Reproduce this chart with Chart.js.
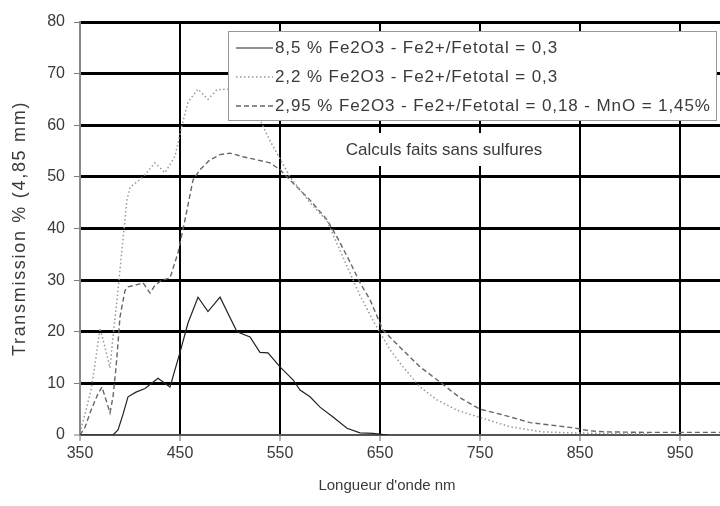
<!DOCTYPE html>
<html>
<head>
<meta charset="utf-8">
<script src="https://cdn.jsdelivr.net/npm/chart.js@4.4.1/dist/chart.umd.min.js"></script>
<style>
  html, body { margin: 0; padding: 0; background: #fff; }
</style>
</head>
<body>
<canvas id="transChart" width="720" height="506"></canvas>
<script>
// Wavelengths (nm) and transmission (%)
const solidNm = [350, 383, 388, 393, 398, 406, 415, 428, 440, 450, 458, 468, 478, 490, 507, 520, 530, 538, 550, 563, 570, 580, 590, 603, 617, 630, 643, 658];
const solidT  = [0, 0, 1, 4, 7.4, 8.3, 9, 11, 9.3, 16, 21.7, 26.7, 23.9, 26.7, 20, 19, 16, 15.9, 13.2, 10.7, 8.7, 7.4, 5.4, 3.5, 1.3, 0.4, 0.3, 0];

const dottedNm = [350, 356, 361, 366, 370, 375, 380, 383, 388, 392, 397, 400, 412, 425, 435, 445, 452, 458, 468, 478, 487, 500, 515, 530, 540, 550, 560, 570, 580, 597, 614, 630, 645, 660, 673, 690, 707, 727, 750, 780, 813, 843, 880, 920];
const dottedT  = [0.4, 4.8, 8.7, 15, 20.7, 17, 13, 19, 28, 36, 45.5, 48, 49.8, 52.7, 50.8, 54, 60, 64.5, 67, 65, 66.9, 67, 64, 61, 57, 53.5, 50, 47.5, 45, 41.5, 34, 27, 21.5, 16.5, 13.2, 9.3, 6.8, 4.8, 3.4, 1.6, 0.6, 0.4, 0.3, 0.2];

const dashedNm = [350, 355, 361, 368, 372, 376, 380, 383, 386, 388, 390, 395, 398, 405, 413, 420, 425, 432, 440, 448, 455, 463, 470, 480, 490, 500, 513, 527, 540, 550, 563, 580, 597, 608, 620, 630, 640, 653, 670, 690, 707, 730, 750, 773, 800, 843, 860, 877, 920, 990];
const dashedT  = [0, 1.5, 4.8, 8, 9.3, 6.8, 4.3, 7.4, 13, 17.8, 22.9, 28, 28.7, 29, 29.5, 27.5, 29, 30, 30.4, 35.3, 41.7, 49.4, 51.4, 53.3, 54.3, 54.6, 53.9, 53.3, 52.7, 51.4, 48.8, 45.5, 41.7, 38, 33.5, 29.5, 26.2, 20.3, 17, 13.2, 10.7, 7.2, 5, 3.9, 2.4, 1.4, 0.8, 0.6, 0.5, 0.5];

const seriesLabels = [
  '8,5 % Fe2O3 - Fe2+/Fetotal = 0,3',
  '2,2 % Fe2O3 - Fe2+/Fetotal = 0,3',
  '2,95 % Fe2O3 - Fe2+/Fetotal = 0,18 - MnO = 1,45%'
];
const xTicks = [350, 450, 550, 650, 750, 850, 950];
const noteText = 'Calculs faits sans sulfures';
const xTitle = "Longueur d'onde nm";
const yTitle = 'Transmission % (4,85 mm)';

const FONT = '"Liberation Sans", Arial, sans-serif';
const TEXT = '#3a3a3a';
const toPoints = (xs, ys) => xs.map((x, i) => ({ x: x, y: ys[i] }));

// boxed legend, note and axis titles, drawn over the curves
const overlayPlugin = {
  id: 'overlay',
  afterDatasetsDraw(chart) {
    const c = chart.ctx;
    const area = chart.chartArea;
    c.save();

    // legend box
    const bx = area.left + 148, by = area.top + 9, bw = 488, bh = 89;
    c.fillStyle = '#fff';
    c.fillRect(bx, by, bw, bh);
    c.strokeStyle = '#999';
    c.lineWidth = 1;
    c.strokeRect(bx + 0.5, by + 0.5, bw, bh);

    c.font = '17px ' + FONT;
    c.letterSpacing = '0.9px';
    c.textBaseline = 'middle';
    chart.data.datasets.forEach((ds, i) => {
      const y = by + 17 + i * 29;
      c.strokeStyle = ds.borderColor;
      c.lineWidth = ds.borderWidth;
      c.setLineDash(ds.borderDash || []);
      c.beginPath();
      c.moveTo(bx + 8, y);
      c.lineTo(bx + 45, y);
      c.stroke();
      c.setLineDash([]);
      c.fillStyle = TEXT;
      c.fillText(ds.label, bx + 47, y);
    });

    // note
    c.font = '17px ' + FONT;
    c.letterSpacing = '0px';
    const nw = c.measureText(noteText).width;
    const nx = area.left + 364, ny = area.top + 128;
    c.fillStyle = '#fff';
    c.fillRect(nx - nw / 2 - 14, ny - 17, nw + 28, 33);
    c.fillStyle = TEXT;
    c.textAlign = 'center';
    c.fillText(noteText, nx, ny);

    // x title
    c.font = '15px ' + FONT;
    c.fillText(xTitle, 387, area.bottom + 51);

    // y title
    c.font = '18px ' + FONT;
    c.letterSpacing = '1.7px';
    c.translate(20, (area.top + area.bottom) / 2);
    c.rotate(-Math.PI / 2);
    c.fillText(yTitle, 0, 0);

    c.restore();
  }
};

const ctx = document.getElementById('transChart').getContext('2d');
const transChart = new Chart(ctx, {
  type: 'line',
  data: {
    datasets: [{
      label: seriesLabels[0],
      data: toPoints(solidNm, solidT),
      borderColor: '#222',
      borderWidth: 1.2
    }, {
      label: seriesLabels[1],
      data: toPoints(dottedNm, dottedT),
      borderColor: '#999',
      borderWidth: 1.5,
      borderDash: [1.5, 2.5]
    }, {
      label: seriesLabels[2],
      data: toPoints(dashedNm, dashedT),
      borderColor: '#666',
      borderWidth: 1.4,
      borderDash: [5, 3]
    }]
  },
  options: {
    responsive: false,
    animation: false,
    layout: { padding: { top: 22, right: 0, left: 0, bottom: 0 } },
    elements: {
      point: { radius: 0 },
      line: { tension: 0, fill: false }
    },
    plugins: {
      legend: { display: false },
      tooltip: { enabled: false }
    },
    scales: {
      x: {
        type: 'linear',
        min: 350,
        max: 990,
        afterBuildTicks: axis => { axis.ticks = xTicks.map(v => ({ value: v })); },
        afterFit: axis => { axis.height = 71; },
        ticks: {
          color: TEXT,
          font: { family: FONT, size: 16 },
          padding: 3,
          maxRotation: 0
        },
        grid: {
          color: c => c.tick && c.tick.value === 350 ? 'rgba(0,0,0,0)' : '#000',
          lineWidth: 2,
          tickLength: 6,
          tickColor: '#666',
          tickWidth: 1
        },
        border: { color: '#555', width: 2 },
        title: { display: false }
      },
      y: {
        min: 0,
        max: 80,
        afterFit: axis => { axis.width = 80; },
        ticks: {
          stepSize: 10,
          color: TEXT,
          font: { family: FONT, size: 16 },
          padding: 9
        },
        grid: {
          color: c => c.tick && c.tick.value === 0 ? '#333' : '#000',
          lineWidth: c => c.tick && c.tick.value === 0 ? 2 : 3,
          tickLength: 6,
          tickColor: '#777',
          tickWidth: 1
        },
        border: { color: '#888', width: 2 },
        title: { display: false }
      }
    }
  },
  plugins: [overlayPlugin]
});
</script>
</body>
</html>
